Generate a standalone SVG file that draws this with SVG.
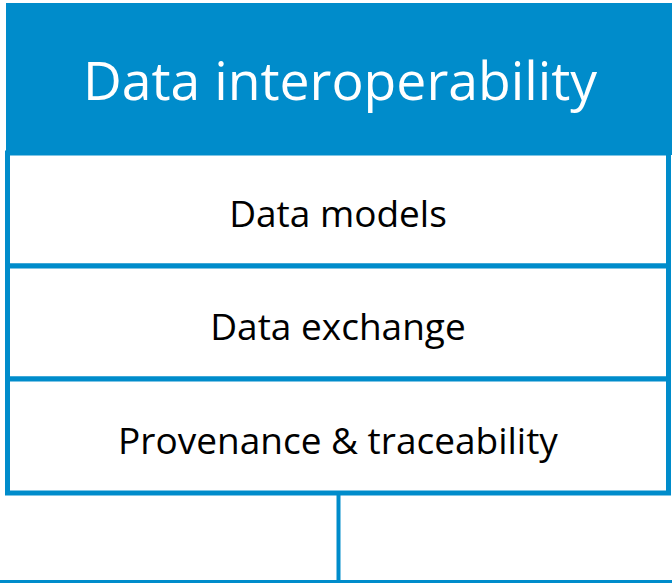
<svg xmlns="http://www.w3.org/2000/svg" width="672" height="583" viewBox="0 0 672 583">
<style>
.box{fill:#ffffff;stroke:#008CCB;stroke-width:5}
.lbl{font-family:"Open Sans","Noto Sans",sans-serif;font-size:37px;fill:#000000;text-anchor:middle}
.hdr{font-family:"Open Sans","Noto Sans",sans-serif;font-size:53.5px;fill:#ffffff;text-anchor:middle}
.conn{stroke:#008CCB;fill:none}
</style>
<rect width="672" height="583" fill="#ffffff"/>
<g id="connectors">
<line class="conn" x1="338.5" y1="493" x2="338.5" y2="583" stroke-width="4"/>
<line class="conn" x1="0" y1="581.5" x2="672" y2="581.5" stroke-width="3"/>
</g>
<g id="box1">
<rect class="box" x="7.5" y="153" width="661" height="113"/>
<text class="lbl" x="338" y="227">Data models</text>
</g>
<g id="box2">
<rect class="box" x="7.5" y="266" width="661" height="113"/>
<text class="lbl" x="338" y="340">Data exchange</text>
</g>
<g id="box3">
<rect class="box" x="7.5" y="379" width="661" height="114"/>
<text class="lbl" x="338" y="454">Provenance &amp; traceability</text>
</g>
<g id="header">
<rect x="6" y="3" width="666" height="152" fill="#008CCB"/>
<text class="hdr" x="340" y="100">Data interoperability</text>
</g>
</svg>
